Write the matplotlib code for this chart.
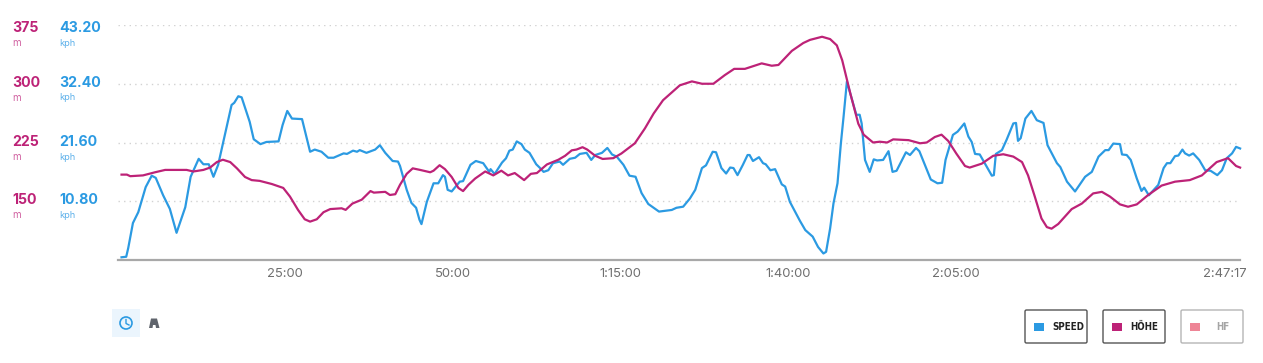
import matplotlib
matplotlib.use('Agg')
import matplotlib.pyplot as plt
from matplotlib.patches import FancyBboxPatch, Rectangle, Circle, Polygon
from matplotlib.transforms import ScaledTranslation

# minutes, kph
speed_t = [0.6,1.3,1.6,2.3,3.1,4.2,5.1,5.7,6.8,7.8,8.8,10.1,10.9,12.1,12.8,13.6,14.3,15.0,16.0,17.0,17.4,18.0,18.5,19.7,20.3,21.3,22.2,24.0,24.6,25.3,26.0,27.5,28.7,29.4,30.4,31.4,32.2,33.7,34.2,35.1,35.7,36.1,37.1,38.4,39.1,39.9,41.0,41.8,42.1,43.1,43.8,44.5,45.0,45.3,46.1,47.1,47.8,48.5,48.8,49.2,49.8,51.0,51.5,52.6,53.4,54.5,55.4,55.6,56.2,57.3,57.9,58.4,58.9,59.5,60.2,60.7,61.4,62.4,62.9,63.5,64.2,64.9,65.9,66.4,67.4,68.2,68.9,69.9,70.6,71.2,72.2,73.0,73.7,74.4,75.4,76.3,77.2,78.1,79.1,80.7,82.6,83.3,84.3,85.3,86.1,87.1,87.7,88.7,89.2,90.0,90.7,91.3,91.8,92.4,93.2,93.9,94.2,94.7,95.6,96.2,96.6,97.3,98.0,99.0,99.5,100.2,101.7,102.5,103.6,104.4,105.2,105.6,106.2,106.7,107.3,107.8,108.2,108.7,109.2,110.1,110.6,110.9,111.4,112.1,112.7,113.2,114.1,114.9,115.5,116.1,117.5,118.1,119.0,119.5,121.2,122.2,122.9,123.4,124.5,125.2,126.2,126.8,127.3,127.8,128.5,130.3,130.6,130.9,131.8,132.5,133.5,133.9,134.2,134.6,135.3,136.2,137.0,138.0,138.6,140.0,140.5,141.5,142.7,144.2,145.2,146.2,147.2,147.7,148.4,149.4,149.7,150.4,151.0,151.9,152.6,153.0,153.7,155.1,155.9,156.4,156.9,157.6,158.1,158.7,159.1,159.7,160.3,161.2,162.1,162.9,163.9,164.6,165.3,166.1,166.7,167.3]
speed_kph = [0.5,0.6,2.2,6.8,8.8,13.4,15.5,15.1,11.9,9.4,5.0,9.7,15.3,18.6,17.6,17.6,15.3,17.5,23.0,28.5,28.9,30.1,29.9,25.4,22.2,21.3,21.7,21.8,24.8,27.4,26.0,25.9,19.9,20.3,19.9,18.8,18.8,19.6,19.5,20.1,19.9,20.2,19.7,20.3,21.1,19.7,18.2,18.1,17.3,12.9,10.5,9.6,7.4,6.6,10.7,14.1,14.1,15.6,15.3,12.9,12.6,14.4,14.5,17.5,18.2,17.8,16.2,16.7,15.8,17.9,18.7,20.1,20.3,21.8,21.3,20.3,19.7,17.6,17.0,16.2,16.5,17.8,18.1,17.5,18.6,18.8,19.5,19.7,18.4,19.3,19.7,20.6,19.4,19.0,17.5,15.5,15.3,12.3,10.3,8.9,9.2,9.6,9.8,11.3,12.9,16.9,17.4,19.9,19.8,16.9,15.9,17.0,16.9,15.6,17.5,19.3,19.3,18.2,18.9,17.8,17.6,16.5,16.7,13.9,13.5,10.7,7.2,5.5,4.3,2.4,1.2,1.5,5.8,10.4,14.1,21.4,26.3,32.8,30.6,26.7,26.7,25.1,18.4,16.2,18.5,18.3,18.4,20.0,16.2,16.4,19.8,19.3,20.6,20.0,14.8,14.1,14.2,18.4,23.0,23.6,25.1,22.7,21.7,19.5,19.4,15.5,15.6,19.5,20.2,22.1,25.1,25.2,21.9,22.4,26.0,27.4,25.7,25.2,21.1,17.8,17.1,14.4,12.6,15.3,16.2,19.0,20.2,20.2,21.4,21.3,19.4,19.3,18.4,15.0,12.7,13.3,11.9,13.8,16.9,17.8,17.8,19.1,19.2,20.3,19.6,19.2,19.6,18.4,16.5,16.4,15.6,16.5,18.7,19.6,20.8,20.5]

# minutes, metres
hoehe_t = [0.6,1.4,1.9,3.8,5.6,7.1,10.3,11.3,12.8,13.8,14.8,15.7,16.8,17.8,19.0,20.0,21.2,23.0,24.7,25.7,26.9,27.9,28.7,29.7,30.7,31.7,33.4,34.0,35.0,36.4,37.7,38.2,39.9,40.6,41.4,42.1,43.1,44.0,45.1,46.6,47.1,48.0,48.8,49.8,50.8,51.5,52.3,53.3,54.8,56.0,57.2,58.2,59.2,60.6,61.6,62.5,64.0,65.7,66.7,67.7,68.4,69.3,70.0,71.2,72.3,73.9,75.1,77.1,78.6,79.9,81.3,83.8,85.6,87.1,88.8,90.5,91.9,93.5,96.0,97.5,98.5,100.5,102.2,103.2,105.0,106.2,107.2,108.0,109.2,110.4,111.2,112.6,113.6,114.7,115.6,117.9,119.6,120.6,121.8,122.8,123.8,125.0,126.3,127.0,128.8,130.5,132.0,133.5,134.8,135.7,136.7,137.7,138.5,139.2,140.2,142.2,143.7,145.4,146.7,147.9,149.4,150.6,151.9,153.6,155.6,157.6,159.8,161.6,163.8,165.5,166.7,167.3]
hoehe_m = [184,184,182,183,187,190,190,188,190,193,200,203,200,192,181,177,176,172,167,156,139,127,124,127,136,140,141,139,147,152,163,161,162,158,159,171,185,192,190,187,189,196,191,181,167,163,171,179,188,183,189,183,186,177,185,186,197,203,208,215,216,219,216,208,204,205,211,224,243,262,279,298,303,300,300,311,319,319,326,323,324,342,352,356,360,357,349,330,288,249,235,225,226,225,229,228,224,225,232,235,227,211,195,193,198,208,210,207,200,183,156,128,117,115,121,140,147,160,162,156,146,143,146,158,170,175,177,183,200,205,195,193]

speed_ticks = [10.8, 21.6, 32.4, 43.2]
speed_labels = ['10.80', '21.60', '32.40', '43.20']
hoehe_labels = ['150', '225', '300', '375']
time_ticks = [25, 50, 75, 100, 125, 167.283]
time_labels = ['25:00', '50:00', '1:15:00', '1:40:00', '2:05:00', '2:47:17']
legend_names = ['SPEED', 'HÖHE', 'HF']

BLUE = '#2b9ae2'
PINK = '#bd2277'
W, H = 1263, 363

plt.rcParams['font.family'] = ['Inter', 'DejaVu Sans']

fig = plt.figure(figsize=(W / 100, H / 100), dpi=100, facecolor='white')
ax = fig.add_axes([117.5 / W, (H - 260) / H, 1122.5 / W, 235 / H])
ax.set_xlim(0, 167.283)
ax.set_ylim(0, 43.2)
ax.patch.set_visible(False)
for s in ['top', 'left', 'right']:
    ax.spines[s].set_visible(False)
ax.spines['bottom'].set_color('#a8a8a8')
ax.spines['bottom'].set_linewidth(1.6)
ax.set_yticks(speed_ticks)
ax.set_yticklabels([])
ax.tick_params(axis='y', length=0)
ax.grid(axis='y', color='#d2d2d2', linestyle=(0, (1, 3)), linewidth=1)
ax.set_xticks(time_ticks)
ax.set_xticklabels(time_labels, fontsize=9.4, color='#6f6f6f')
ax.tick_params(axis='x', length=0, pad=6)

# last time label hangs off the end of the axis
last = ax.get_xticklabels()[-1]
last.set_ha('right')
last.set_transform(last.get_transform() + ScaledTranslation(7 / 100, 0, fig.dpi_scale_trans))

ax2 = ax.twinx()
ax2.set_ylim(75, 375)
ax2.axis('off')

ax.plot(speed_t, speed_kph, color=BLUE, linewidth=1.6, solid_joinstyle='round', clip_on=False)
ax2.plot(hoehe_t, hoehe_m, color=PINK, linewidth=1.6, solid_joinstyle='round', clip_on=False)

# overlay in pixel coords for labels, buttons and icons
ov = fig.add_axes([0, 0, 1, 1])
ov.set_xlim(0, W)
ov.set_ylim(H, 0)
ov.axis('off')
ov.patch.set_visible(False)

label_y = [200, 142, 83, 28]
for y, sp, alt in zip(label_y, speed_labels, hoehe_labels):
    ov.text(59, y, sp, color=BLUE, fontsize=10.2, fontweight='bold', va='center')
    ov.text(59, y + 15, 'kph', color='#5cb0ea', fontsize=6.6, va='center')
    ov.text(12, y, alt, color=PINK, fontsize=10.2, fontweight='bold', va='center')
    ov.text(12, y + 15, 'm', color='#d060a0', fontsize=7, va='center')

ov.add_patch(Rectangle((112, 309), 28, 28, facecolor='#ebf5fd', edgecolor='none'))
ov.add_patch(Circle((126, 323), 6, facecolor='none', edgecolor=BLUE, linewidth=1.2))
ov.plot([126, 126, 129], [319.5, 323.5, 325], color=BLUE, linewidth=1)
ov.add_patch(Polygon([(149, 328), (151, 318.5), (157, 318.5), (159.5, 328), (156, 328), (155.5, 325), (153, 325), (152.5, 328)],
                     facecolor='#5f646c', edgecolor='none'))

btn_x = [1024, 1102, 1180]
btn_col = [BLUE, PINK, '#ee8596']
text_off = [28, 28, 36]
for x0, name, c, off in zip(btn_x, legend_names, btn_col, text_off):
    faded = name == 'HF'
    ov.add_patch(FancyBboxPatch((x0 + 1, 310), 62, 33, boxstyle='round,pad=0,rounding_size=1.5',
                                facecolor='white', edgecolor='#b5b5b5' if faded else '#555555', linewidth=1))
    ov.add_patch(Rectangle((x0 + 10, 323), 10, 8, facecolor=c, edgecolor='none'))
    ov.text(x0 + off, 326.5, name, fontsize=7, fontweight='bold', stretch='condensed',
            color='#a5a5a5' if faded else '#222222', va='center', family='DejaVu Sans')

fig.savefig('out.png', dpi=100)
